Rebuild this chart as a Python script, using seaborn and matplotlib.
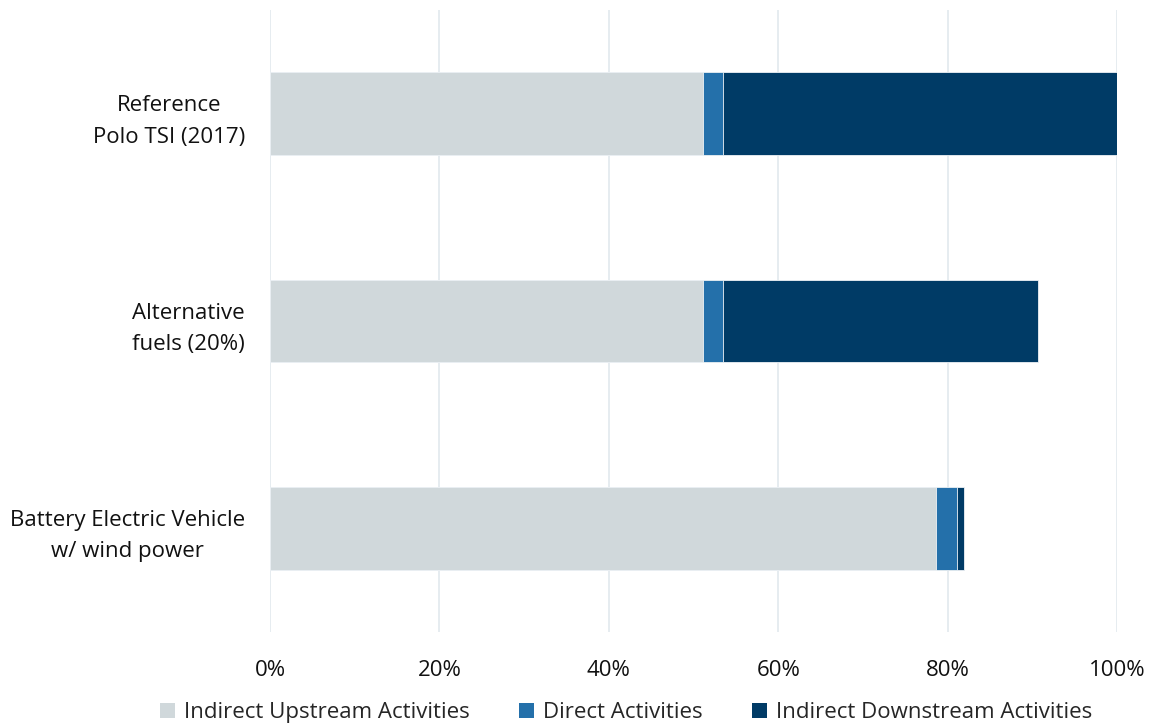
import numpy as np
import pandas as pd
import matplotlib
matplotlib.use("Agg")
import matplotlib.pyplot as plt
from matplotlib.patches import Patch
import seaborn as sns

categories = ["Reference\nPolo TSI (2017)", "Alternative\nfuels (20%)",
              "Battery Electric Vehicle\nw/ wind power"]
upstream = [51.1, 51.1, 78.6]
direct = [2.4, 2.4, 2.5]
downstream = [46.5, 37.2, 0.8]

series_names = ["Indirect Upstream Activities", "Direct Activities",
                "Indirect Downstream Activities"]
colors = ["#d0d8db", "#2470aa", "#003b66"]
tick_vals = [0, 20, 40, 60, 80, 100]
tick_labels = ["0%", "20%", "40%", "60%", "80%", "100%"]

sns.set_theme(style="white")
plt.rcParams["font.family"] = ["Open Sans", "DejaVu Sans"]

fig = plt.figure(figsize=(11.49, 7.26), dpi=100)
ax = fig.add_axes([270 / 1149, 1 - 632 / 726, (1117 - 270) / 1149, (632 - 10) / 726])

# cumulative ends of each stacked segment, drawn from the outermost inward
cum1 = np.array(upstream)
cum2 = cum1 + np.array(direct)
cum3 = cum2 + np.array(downstream)
stacks = [cum3, cum2, cum1]
for vals, col in zip(stacks, colors[::-1]):
    df = pd.DataFrame({"cat": categories, "val": vals})
    sns.barplot(data=df, x="val", y="cat", orient="h", color=col,
                saturation=1, width=0.4, edgecolor="#eef2f5", linewidth=0.6,
                ax=ax, zorder=3)

ax.set_xlim(0, 100)
ax.set_ylim(2.5, -0.5)
ax.set_xticks(tick_vals)
ax.set_xticklabels(tick_labels)
ax.set_xlabel("")
ax.set_ylabel("")
ax.grid(axis="x", color="#e6ecf0", linewidth=1.4, zorder=0)
for s in ax.spines.values():
    s.set_visible(False)
ax.tick_params(axis="both", length=0, labelsize=16, colors="#111111")
ax.tick_params(axis="x", pad=20)
ax.tick_params(axis="y", pad=18)
for lbl in ax.get_yticklabels():
    lbl.set_multialignment("center")
    lbl.set_linespacing(1.65)

handles = [Patch(facecolor=c, edgecolor="none") for c in colors]
fig.legend(handles, series_names, loc="lower center", ncol=3,
           bbox_to_anchor=(0.545, -0.024), frameon=False, fontsize=16,
           handlelength=0.7, handleheight=0.7, handletextpad=0.4,
           columnspacing=2.2)

fig.savefig("out.png", dpi=100)
